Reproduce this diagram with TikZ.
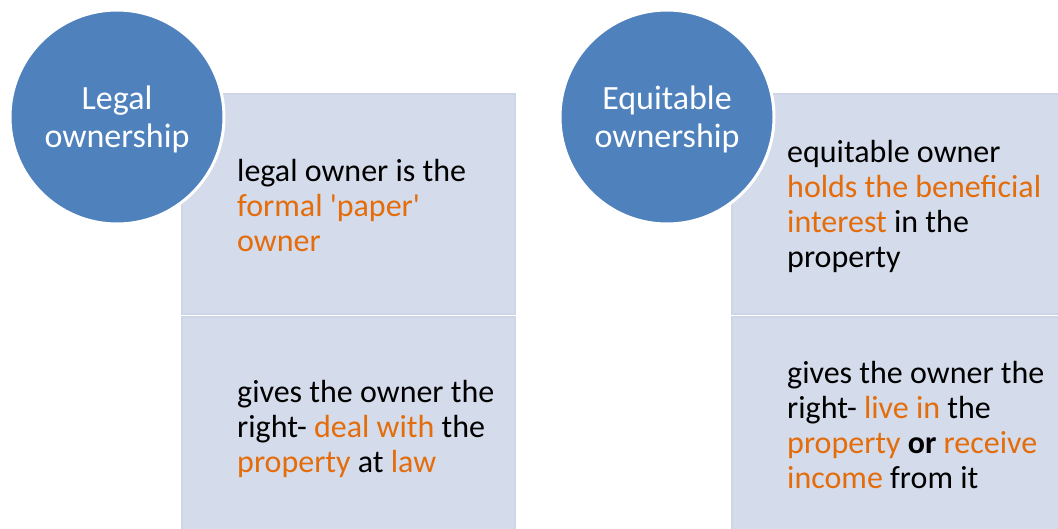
\documentclass[tikz,border=0pt]{standalone}
\usepackage{fontspec}
\usepackage{xcolor}
\setmainfont{Carlito}
\definecolor{circblue}{HTML}{4F81BD}
\definecolor{boxfill}{HTML}{D4DBEA}
\definecolor{boxline}{HTML}{CDD5E6}
\definecolor{accent}{HTML}{E46C0A}

\begin{document}
\begin{tikzpicture}[x=1pt, y=-1pt]
    % Styles
    \tikzstyle{owner} = [circle, fill=circblue, draw=white, line width=3pt, minimum size=214pt, inner sep=0pt, text=white, align=center, font=\fontsize{34}{38}\selectfont]
    \tikzstyle{panel} = [rectangle, fill=boxfill, draw=boxline, line width=1.5pt, minimum width=333pt, minimum height=220pt, inner sep=0pt]
    \tikzstyle{point} = [align=left, inner sep=0pt, anchor=west, font=\fontsize{32}{35}\selectfont]

    \useasboundingbox (0,0) rectangle (1058,528);
    \clip (0,0) rectangle (1058,528);

    % Panels
    \node [panel, anchor=north west] (legaltop) at (181,93) {};
    \node [panel, anchor=north west] (legalbot) at (181,316) {};
    \node [panel, anchor=north west] (equitop) at (731,93) {};
    \node [panel, anchor=north west] (equibot) at (731,316) {};

    % Circles (the rule only lowers the text a little)
    \node [owner] (legal) at (117,117) {\rule{0pt}{28pt}Legal\\ownership};
    \node [owner] (equi) at (667,117) {\rule{0pt}{28pt}Equitable\\ownership};

    % Texts
    \node [point] (legalA) at ([xshift=56pt, yshift=-2pt]legaltop.west) {legal owner is the\\\textcolor{accent}{formal \textquotesingle paper\textquotesingle}\\\textcolor{accent}{owner}};
    \node [point] (legalB) at ([xshift=56pt, yshift=-2pt]legalbot.west) {gives the owner the\\right- \textcolor{accent}{deal with} the\\\textcolor{accent}{property} at \textcolor{accent}{law}};
    \node [point] (equiA) at ([xshift=56pt, yshift=-3pt]equitop.west) {equitable owner\\\textcolor{accent}{holds the beneficial}\\\textcolor{accent}{interest} in the\\property};
    \node [point] (equiB) at ([xshift=56pt, yshift=2pt]equibot.west) {gives the owner the\\right- \textcolor{accent}{live in} the\\\textcolor{accent}{property} \textbf{or} \textcolor{accent}{receive}\\\textcolor{accent}{income} from it};
\end{tikzpicture}
\end{document}
